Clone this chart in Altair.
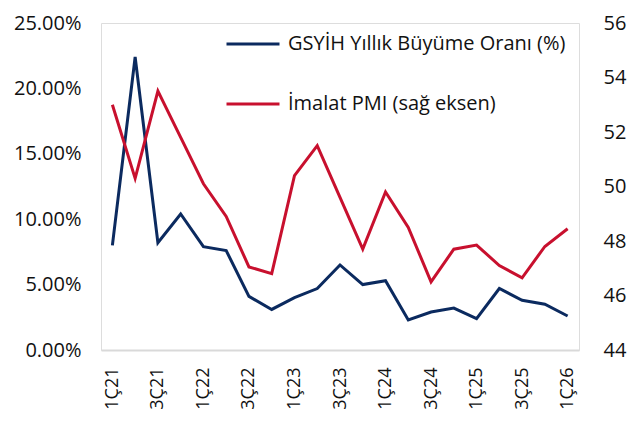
import altair as alt
import pandas as pd

quarters = ["1Ç21", "2Ç21", "3Ç21", "4Ç21", "1Ç22", "2Ç22", "3Ç22", "4Ç22",
            "1Ç23", "2Ç23", "3Ç23", "4Ç23", "1Ç24", "2Ç24", "3Ç24", "4Ç24",
            "1Ç25", "2Ç25", "3Ç25", "4Ç25", "1Ç26"]
gdp = [8.0, 22.4, 8.2, 10.4, 7.9, 7.6, 4.1, 3.1, 4.0, 4.7, 6.5, 5.0, 5.3,
       2.3, 2.9, 3.2, 2.4, 4.7, 3.8, 3.5, 2.6]
pmi = [53.0, 50.3, 53.5, 51.8, 50.1, 48.9, 47.05, 46.8, 50.4, 51.5, 49.6,
       47.7, 49.8, 48.5, 46.5, 47.7, 47.85, 47.1, 46.65, 47.8, 48.45]
series_names = ["GSYİH Yıllık Büyüme Oranı (%)", "İmalat PMI (sağ eksen)"]
colors = ["#0b2a5f", "#c8102e"]
shown_labels = quarters[::2]
left_ticks = [0, 5, 10, 15, 20, 25]
right_ticks = [44, 46, 48, 50, 52, 54, 56]

df_gdp = pd.DataFrame({"q": quarters, "v": gdp, "s": series_names[0]})
df_pmi = pd.DataFrame({"q": quarters, "v": pmi, "s": series_names[1]})

FONT = "Open Sans"

x_enc = alt.X("q:N", sort=quarters, title=None,
              scale=alt.Scale(type="point", padding=0.5),
              axis=alt.Axis(values=shown_labels, labelAngle=-90, ticks=False,
                            domainColor="#d9d9d9", domainWidth=2,
                            labelFontSize=18, labelPadding=17,
                            labelColor="#111111", labelFont=FONT))

color_enc = alt.Color("s:N", title=None,
                      scale=alt.Scale(domain=series_names, range=colors),
                      legend=alt.Legend(orient="none", legendX=124, legendY=-7,
                                        symbolType="stroke", symbolSize=2809,
                                        symbolStrokeWidth=3, labelFontSize=20,
                                        labelFont=FONT, labelColor="#111111",
                                        rowPadding=22, labelOffset=7, padding=0,
                                        labelLimit=400))

line_gdp = alt.Chart(df_gdp).mark_line(strokeWidth=3).encode(
    x=x_enc,
    y=alt.Y("v:Q", title=None,
            scale=alt.Scale(domain=[0, 25], nice=False),
            axis=alt.Axis(values=left_ticks, orient="left", grid=False,
                          domain=False, ticks=False, labelFontSize=20,
                          labelPadding=20, labelFont=FONT, labelColor="#111111",
                          labelExpr="format(datum.value, '.2f') + '%'")),
    color=color_enc,
)

line_pmi = alt.Chart(df_pmi).mark_line(strokeWidth=3).encode(
    x=x_enc,
    y=alt.Y("v:Q", title=None,
            scale=alt.Scale(domain=[44, 56], nice=False, zero=False),
            axis=alt.Axis(values=right_ticks, orient="right", grid=False,
                          domain=False, ticks=False, labelFontSize=20,
                          labelPadding=24, labelFont=FONT, labelColor="#111111")),
    color=color_enc,
)

chart = alt.layer(line_gdp, line_pmi).resolve_scale(y="independent").properties(
    width=478, height=327
).configure_view(stroke=None).configure(background="white")

chart.save("out.html", embed_options={"renderer": "svg", "actions": False})
